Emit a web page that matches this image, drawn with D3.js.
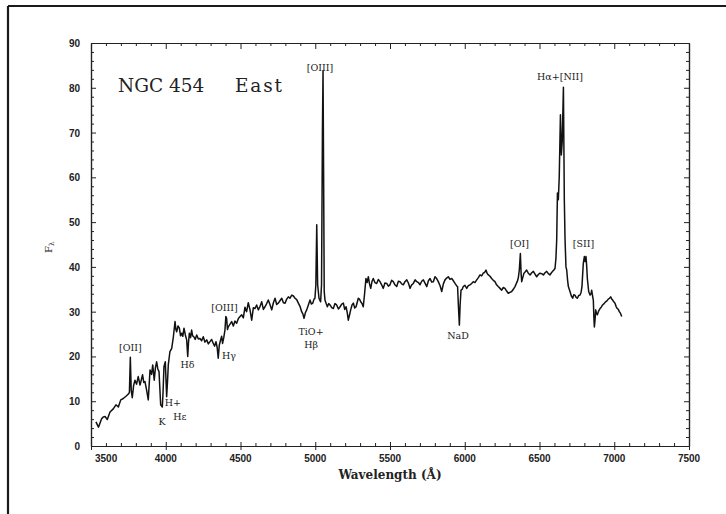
<!DOCTYPE html>
<html>
<head>
<meta charset="utf-8">
<script src="https://cdn.jsdelivr.net/npm/d3@7"></script>
<style>
  body { margin: 0; background: #fff; }
  svg { display: block; }
</style>
</head>
<body>
<svg id="chart" width="726" height="514"></svg>
<script>
// Optical spectrum of NGC 454 (East component): wavelength in Å, flux F_λ
const wavelength = [
  3533, 3550, 3571, 3583, 3594, 3609, 3627, 3649, 3667, 3683, 3699, 3716, 3734, 3750, 3757, 3763, 3769, 3776,
  3785, 3794, 3805, 3816, 3828, 3845, 3853, 3861, 3872, 3883, 3895, 3905, 3913, 3923, 3931, 3939, 3947, 3955,
  3966, 3977, 3982, 3988, 3997, 4006, 4012, 4017, 4028, 4040, 4051, 4062, 4068, 4073, 4082, 4091, 4099, 4107,
  4114, 4122, 4131, 4140, 4147, 4152, 4158, 4166, 4173, 4180, 4188, 4197, 4207, 4218, 4229, 4240, 4251, 4262,
  4274, 4285, 4296, 4307, 4318, 4327, 4336, 4344, 4351, 4358, 4367, 4374, 4380, 4388, 4396, 4402, 4407, 4413,
  4418, 4430, 4441, 4452, 4463, 4474, 4486, 4497, 4508, 4519, 4530, 4541, 4552, 4563, 4575, 4586, 4597, 4608,
  4619, 4631, 4642, 4653, 4664, 4675, 4686, 4697, 4709, 4720, 4731, 4742, 4753, 4765, 4776, 4787, 4798, 4809,
  4820, 4831, 4843, 4854, 4865, 4876, 4887, 4898, 4909, 4917, 4925, 4934, 4943, 4954, 4965, 4974, 4983, 4992,
  4998, 5004, 5010, 5016, 5025, 5036, 5042, 5048, 5052, 5056, 5060, 5065, 5073, 5081, 5090, 5099, 5110, 5121,
  5132, 5143, 5155, 5166, 5177, 5188, 5197, 5206, 5214, 5221, 5229, 5237, 5246, 5255, 5264, 5273, 5280, 5288,
  5296, 5304, 5313, 5321, 5330, 5339, 5347, 5355, 5363, 5371, 5380, 5388, 5399, 5411, 5422, 5433, 5444, 5455,
  5466, 5478, 5489, 5500, 5511, 5522, 5533, 5545, 5556, 5567, 5578, 5589, 5600, 5612, 5623, 5634, 5645, 5656,
  5668, 5679, 5690, 5701, 5712, 5723, 5735, 5746, 5757, 5768, 5779, 5790, 5801, 5812, 5823, 5835, 5846, 5857,
  5868, 5879, 5890, 5901, 5913, 5924, 5935, 5945, 5952, 5958, 5964, 5969, 5975, 5983, 5990, 6001, 6013, 6024,
  6035, 6046, 6057, 6068, 6080, 6091, 6102, 6113, 6124, 6133, 6142, 6150, 6158, 6169, 6180, 6191, 6202, 6213,
  6224, 6236, 6247, 6258, 6269, 6280, 6291, 6302, 6314, 6325, 6336, 6345, 6351, 6358, 6365, 6372, 6377, 6381,
  6388, 6396, 6405, 6414, 6425, 6437, 6448, 6459, 6470, 6481, 6492, 6503, 6514, 6526, 6537, 6548, 6559, 6570,
  6580, 6588, 6596, 6604, 6610, 6615, 6620, 6626, 6632, 6640, 6646, 6652, 6660, 6666, 6671, 6677, 6682, 6688,
  6693, 6704, 6713, 6722, 6729, 6737, 6745, 6753, 6762, 6771, 6778, 6784, 6789, 6793, 6800, 6806, 6811, 6816,
  6820, 6829, 6838, 6845, 6849, 6855, 6860, 6864, 6867, 6871, 6876, 6881, 6887, 6896, 6905, 6913, 6922, 6932,
  6942, 6951, 6960, 6968, 6976, 6982, 6989, 6997, 7005, 7012, 7020, 7027, 7034, 7042, 7050
];
const flux = [
  5.4, 4.2, 6.1, 6.5, 6.6, 5.9, 7.6, 8.3, 9.2, 8.7, 10.3, 10.6, 11.1, 11.6, 12.0, 19.8, 12.5, 10.8,
  13.5, 14.7, 13.8, 15.5, 13.6, 15.9, 14.2, 14.4, 12.5, 10.3, 17.0, 16.0, 18.1, 14.7, 17.5, 18.8, 17.2, 16.6,
  9.2, 8.7, 12.0, 17.7, 18.8, 11.0, 14.5, 18.1, 21.1, 21.8, 24.4, 27.8, 26.0, 25.5, 26.8, 26.3, 24.6, 25.2,
  24.5, 26.3, 24.8, 23.7, 20.0, 23.0, 25.2, 24.2, 25.9, 24.6, 24.4, 23.8, 24.8, 23.9, 24.0, 23.5, 24.4, 23.2,
  23.7, 22.8, 23.3, 23.8, 22.9, 22.3, 23.3, 22.0, 19.6, 22.5, 23.7, 24.5, 22.9, 24.2, 25.9, 28.9, 28.5, 26.0,
  26.6, 27.2, 27.8, 26.8, 27.9, 27.4, 28.5, 28.9, 29.3, 28.6, 31.0, 30.0, 32.0, 30.5, 28.1, 30.9, 30.7, 31.5,
  30.4, 31.2, 32.2, 30.5, 31.1, 31.8, 32.6, 31.6, 30.4, 32.0, 33.0, 31.6, 31.9, 32.5, 33.0, 32.0, 31.9, 32.8,
  33.3, 33.0, 33.7, 33.5, 33.0, 32.7, 31.9, 31.2, 30.0, 29.5, 28.5, 29.8, 30.4, 31.5, 32.6, 31.7, 31.9, 32.8,
  33.0, 36.0, 49.4, 36.0, 33.0, 32.2, 36.0, 70.0, 83.8, 60.0, 34.5, 32.6, 31.8, 31.1, 31.8, 31.5, 30.9, 30.7,
  31.8, 31.5, 30.6, 31.1, 31.7, 31.9, 30.5, 31.1, 29.8, 28.1, 29.2, 30.4, 31.5, 31.9, 30.8, 31.1, 32.0, 33.0,
  32.8, 32.2, 31.8, 31.1, 34.0, 37.4, 36.5, 37.8, 36.2, 35.2, 36.8, 37.4, 36.5, 36.3, 37.2, 36.7, 36.0, 35.2,
  36.4, 36.3, 35.7, 36.0, 37.0, 36.7, 36.0, 35.6, 36.8, 36.7, 36.2, 36.0, 36.7, 37.1, 36.4, 35.2, 36.0, 36.3,
  37.1, 36.7, 36.5, 36.0, 36.8, 37.1, 36.3, 35.6, 36.9, 37.4, 36.6, 36.7, 37.8, 37.4, 36.7, 35.8, 34.5, 36.2,
  37.1, 37.5, 37.8, 37.2, 37.4, 36.9, 36.3, 35.8, 35.6, 31.0, 27.0, 31.5, 34.8, 35.0, 35.6, 35.9, 35.2, 35.8,
  36.0, 36.3, 36.7, 36.5, 37.1, 37.6, 38.2, 38.0, 38.6, 38.8, 39.3, 38.5, 38.2, 37.9, 37.4, 37.0, 36.7, 36.0,
  35.6, 35.2, 34.8, 35.4, 35.2, 34.6, 34.1, 34.3, 34.5, 35.0, 35.6, 36.3, 36.7, 37.5, 39.3, 43.0, 38.5, 36.7,
  37.6, 38.6, 38.9, 39.3, 38.6, 38.2, 38.7, 39.0, 38.4, 37.8, 38.3, 38.6, 38.5, 38.2, 38.7, 39.0, 38.5, 38.2,
  38.7, 39.0, 39.3, 39.7, 42.0, 46.0, 56.5, 55.0, 60.0, 74.0, 65.0, 68.0, 80.1, 55.0, 46.0, 40.0, 39.3, 37.0,
  35.6, 34.5, 33.5, 33.0, 33.8, 33.7, 33.2, 33.0, 33.6, 33.7, 34.3, 35.6, 38.5, 40.8, 42.3, 41.2, 42.3, 40.0,
  37.4, 34.5, 33.7, 34.0, 34.8, 33.5, 32.6, 28.5, 26.6, 28.0, 30.4, 29.6, 29.3, 30.2, 30.7, 31.0, 31.5, 31.8,
  32.2, 32.4, 32.8, 33.0, 33.3, 32.9, 32.6, 32.2, 31.9, 31.2, 30.7, 30.5, 30.0, 29.6, 28.9
];

// Axis ticks
const xMajorTicks = [3500, 4000, 4500, 5000, 5500, 6000, 6500, 7000, 7500];
const xMinorTicks = d3.range(3600, 7500, 100).filter(v => v % 500 !== 0);
const yMajorTicks = [0, 10, 20, 30, 40, 50, 60, 70, 80, 90];
const yMinorTicks = d3.range(2, 90, 2).filter(v => v % 10 !== 0);

// Line identifications (label text, wavelength and flux of the label baseline centre)
const lineText = ["[OII]", "K", "H+", "Hε", "Hδ", "Hγ", "[OIII]", "TiO+", "Hβ", "[OIII]", "NaD", "[OI]", "Hα+[NII]", "[SII]"];
const lineWave = [3764, 3975, 4048, 4095, 4145, 4423, 4393, 4972, 4972, 5032, 5955, 6366, 6637, 6794];
const lineFlux = [21.2, 4.7, 8.9, 5.8, 17.4, 19.4, 30.1, 24.8, 21.9, 83.7, 23.9, 44.4, 81.7, 44.4];

const margin = { left: 91, top: 43, right: 37, bottom: 68 };
const W = 726, H = 514;

const svg = d3.select("#chart");

// outer frame
svg.append("line").attr("x1", 8).attr("y1", 6).attr("x2", W).attr("y2", 6)
  .attr("stroke", "#1a1a1a").attr("stroke-width", 2.2);
svg.append("line").attr("x1", 8).attr("y1", 6).attr("x2", 8).attr("y2", H)
  .attr("stroke", "#1a1a1a").attr("stroke-width", 2.2);

const x = d3.scaleLinear().domain([3500, 7500]).range([margin.left, W - margin.right]);
const y = d3.scaleLinear().domain([0, 90]).range([H - margin.bottom, margin.top]);

const axisColor = "#222";
function styleAxis(g) {
  g.selectAll("path").attr("stroke", axisColor).attr("stroke-width", 1.2);
  g.selectAll("line").attr("stroke", axisColor).attr("stroke-width", 1);
  g.selectAll("text").remove();
}

const x0 = H - margin.bottom, y0 = margin.top;
const xl = margin.left, xr = W - margin.right;

// bottom axis: minor ticks inward, major ticks crossing
svg.append("g").attr("transform", `translate(0,${x0})`)
  .call(d3.axisBottom(x).tickValues(xMinorTicks).tickSizeInner(-3).tickSizeOuter(0)).call(styleAxis);
svg.append("g").attr("transform", `translate(0,${x0})`)
  .call(d3.axisBottom(x).tickValues(xMajorTicks).tickSizeInner(4).tickSizeOuter(0)).call(styleAxis);
svg.append("g").attr("transform", `translate(0,${x0})`)
  .call(d3.axisBottom(x).tickValues(xMajorTicks).tickSizeInner(-4).tickSizeOuter(0)).call(styleAxis);
// top axis
svg.append("g").attr("transform", `translate(0,${y0})`)
  .call(d3.axisTop(x).tickValues(xMinorTicks).tickSizeInner(-3).tickSizeOuter(0)).call(styleAxis);
svg.append("g").attr("transform", `translate(0,${y0})`)
  .call(d3.axisTop(x).tickValues(xMajorTicks).tickSizeInner(-6).tickSizeOuter(0)).call(styleAxis);
// left axis
svg.append("g").attr("transform", `translate(${xl},0)`)
  .call(d3.axisLeft(y).tickValues(yMinorTicks).tickSizeInner(-3).tickSizeOuter(0)).call(styleAxis);
svg.append("g").attr("transform", `translate(${xl},0)`)
  .call(d3.axisLeft(y).tickValues(yMajorTicks).tickSizeInner(-5).tickSizeOuter(0)).call(styleAxis);
// right axis
svg.append("g").attr("transform", `translate(${xr},0)`)
  .call(d3.axisRight(y).tickValues(yMinorTicks).tickSizeInner(-3).tickSizeOuter(0)).call(styleAxis);
svg.append("g").attr("transform", `translate(${xr},0)`)
  .call(d3.axisRight(y).tickValues(yMajorTicks).tickSizeInner(-5).tickSizeOuter(0)).call(styleAxis);

// tick labels
const tickFont = "'Liberation Sans', Arial, sans-serif";
svg.append("g").selectAll("text").data(xMajorTicks).join("text")
  .attr("x", (d, i) => i === 0 ? x(d) + 4 : x(d))
  .attr("y", x0 + 16)
  .attr("text-anchor", (d, i) => i === 0 ? "start" : "middle")
  .attr("font-family", tickFont).attr("font-size", 10).attr("font-weight", "bold")
  .attr("fill", "#222")
  .text(d => d);
svg.append("g").selectAll("text").data(yMajorTicks).join("text")
  .attr("x", xl - 11)
  .attr("y", d => y(d) + 4)
  .attr("text-anchor", "end")
  .attr("font-family", tickFont).attr("font-size", 10).attr("font-weight", "bold")
  .attr("fill", "#222")
  .text(d => d);

// axis titles
const serif = "'DejaVu Serif', 'Liberation Serif', serif";
svg.append("text")
  .attr("x", (xl + xr) / 2).attr("y", x0 + 33)
  .attr("text-anchor", "middle")
  .attr("font-family", serif).attr("font-size", 12).attr("font-weight", "bold")
  .attr("fill", "#222")
  .text("Wavelength (Å)");

const yTitle = svg.append("text")
  .attr("transform", `translate(52,253) rotate(-90)`)
  .attr("font-family", serif).attr("font-size", 10).attr("fill", "#222");
yTitle.append("tspan").text("F");
yTitle.append("tspan").attr("font-size", 7).attr("dy", 2).text("λ");

// title: object name and region
const title = svg.append("g")
  .attr("font-family", serif).attr("font-size", 18.5).attr("fill", "#222");
title.append("text").attr("x", 118).attr("y", 92).text("NGC 454");
title.append("text").attr("x", 235).attr("y", 92).attr("textLength", 47).text("East");

// spectrum
const spectrum = wavelength.map((w, i) => [w, flux[i]]);
svg.append("path")
  .datum(spectrum)
  .attr("fill", "none")
  .attr("stroke", "#111")
  .attr("stroke-width", 1.5)
  .attr("stroke-linejoin", "round")
  .attr("d", d3.line().x(d => x(d[0])).y(d => y(d[1])));

// line identifications
svg.append("g").selectAll("text").data(lineText).join("text")
  .attr("x", (d, i) => x(lineWave[i]))
  .attr("y", (d, i) => y(lineFlux[i]))
  .attr("text-anchor", "middle")
  .attr("font-family", serif).attr("font-size", 9.5).attr("fill", "#222")
  .text(d => d);
</script>
</body>
</html>
